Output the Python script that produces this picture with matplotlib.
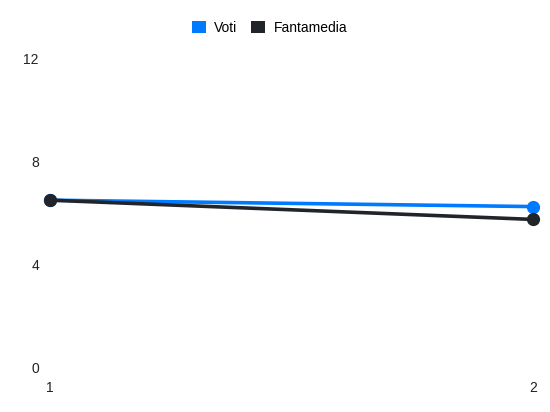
import matplotlib
matplotlib.use("Agg")
import matplotlib.pyplot as plt
from matplotlib.patches import Patch

plt.rcParams.update({
    "font.family": ["Liberation Sans", "DejaVu Sans"],
    "font.size": 10,
})

# Data
giornate = [1, 2]
voti = [6.5, 6.25]
fantamedia = [6.5, 5.75]
y_ticks = [0, 4, 8, 12]

COLORS = {"Voti": "#007bff", "Fantamedia": "#212529"}

fig = plt.figure(figsize=(5.5, 4.12), dpi=100)
ax = fig.add_axes([0.0909, 0.109, 0.878, 0.748])

ax.plot(giornate, fantamedia, color=COLORS["Fantamedia"], linewidth=2.6,
        marker="o", markersize=8.5, zorder=3, clip_on=False)
ax.plot(giornate, voti, color=COLORS["Voti"], linewidth=2.6,
        marker="o", markersize=8.5, zorder=2, clip_on=False)

ax.set_xlim(giornate[0], giornate[-1])
ax.set_ylim(y_ticks[0], y_ticks[-1])
ax.set_xticks(giornate)
ax.set_yticks(y_ticks)
ax.tick_params(length=0, labelcolor="#222222")
ax.tick_params(axis="y", pad=8)
ax.tick_params(axis="x", pad=10)
for s in ax.spines.values():
    s.set_visible(False)

handles = [Patch(facecolor=c, edgecolor="none", label=k) for k, c in COLORS.items()]
fig.legend(handles=handles, loc="center", bbox_to_anchor=(0.49, 0.933), ncol=2,
           frameon=False, handlelength=1.0, handleheight=1.0, handletextpad=0.6,
           columnspacing=1.0, fontsize=10)

fig.savefig("out.png", dpi=100)
